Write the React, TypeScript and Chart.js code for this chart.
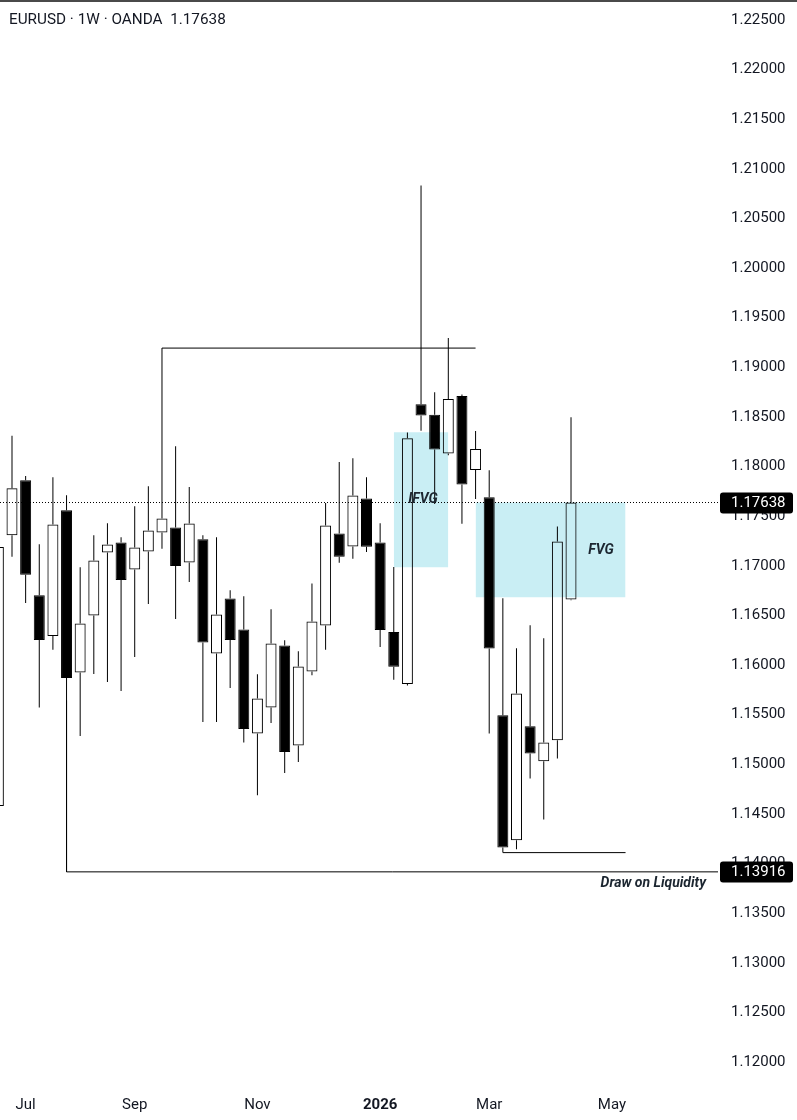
import React, { useEffect, useRef } from 'react';
import { Chart, registerables } from 'chart.js';

Chart.register(...registerables);

// Weekly EURUSD candles (index 0 = partially visible week before Jul)
const opens = [
  1.14579, 1.17307, 1.17863, 1.16704, 1.16294, 1.17561, 1.15925, 1.16499, 1.17134, 1.17235,
  1.16963, 1.17144, 1.17336, 1.17386, 1.17034, 1.17268, 1.16116, 1.16671, 1.16358, 1.1531,
  1.15572, 1.16197, 1.15189, 1.15935, 1.16399, 1.17326, 1.17195, 1.17679, 1.17235, 1.16332,
  1.15808, 1.18628, 1.18522, 1.18133, 1.18712, 1.17966, 1.17692, 1.15494, 1.14234, 1.15384,
  1.15031, 1.15242, 1.16661,
];
const highs = [
  1.1735, 1.18311, 1.17904, 1.17218, 1.17893, 1.17712, 1.16986, 1.17309, 1.1743, 1.17289,
  1.17601, 1.17803, 1.19194, 1.18206, 1.17793, 1.17309, 1.17289, 1.16754, 1.16694, 1.15908,
  1.16563, 1.1625, 1.1614, 1.16822, 1.17634, 1.18045, 1.18085, 1.17893, 1.1743, 1.16988,
  1.18344, 1.20832, 1.1875, 1.19296, 1.18726, 1.18358, 1.17964, 1.16674, 1.1617, 1.16402,
  1.1627, 1.17396, 1.18498,
];
const lows = [
  1.144, 1.17092, 1.16626, 1.15572, 1.16153, 1.15646, 1.15286, 1.15911, 1.1583, 1.15739,
  1.16082, 1.16616, 1.17171, 1.16465, 1.16838, 1.15427, 1.15427, 1.1577, 1.15219, 1.14688,
  1.15417, 1.14913, 1.15024, 1.15898, 1.16153, 1.1703, 1.1707, 1.1714, 1.16183, 1.15853,
  1.15794, 1.18361, 1.17623, 1.18115, 1.17424, 1.17674, 1.1531, 1.1411, 1.14144, 1.14856,
  1.14443, 1.15058, 1.16654,
];
const closes = [
  1.17189, 1.17781, 1.16909, 1.16253, 1.17417, 1.1587, 1.16419, 1.17054, 1.17215, 1.16858,
  1.17185, 1.17356, 1.17477, 1.16999, 1.17427, 1.16227, 1.16509, 1.16253, 1.15356, 1.15663,
  1.16217, 1.15124, 1.15985, 1.16439, 1.17407, 1.17092, 1.17709, 1.17191, 1.16354, 1.15984,
  1.18285, 1.18515, 1.18171, 1.18681, 1.1782, 1.18178, 1.16167, 1.14161, 1.15713, 1.15108,
  1.15219, 1.17245, 1.17638,
];

const monthTickIdx = [2, 10, 19, 28, 36, 45];
const monthLabels = ['Jul', 'Sep', 'Nov', '2026', 'Mar', 'May'];
const priceTicks = [
  1.12, 1.125, 1.13, 1.135, 1.14, 1.145, 1.15, 1.155, 1.16, 1.165, 1.17, 1.175,
  1.18, 1.185, 1.19, 1.195, 1.2, 1.205, 1.21, 1.215, 1.22, 1.225,
];

const lastPrice = 1.17638;
const liquidityPrice = 1.13916;
const prevHighPrice = 1.19194;
const recentLowPrice = 1.1411;
const ifvgTop = 1.18347;
const ifvgBottom = 1.16986;
const fvgTop = 1.17638;
const fvgBottom = 1.16684;

const X_MIN = 0.12;
const X_MAX = 52.78;
const Y_MIN = 1.117684;
const Y_MAX = 1.227015;

const TEXT = '#131722';
const BOX = 'rgb(201,238,244)';

const overlay = {
  id: 'overlay',
  afterDatasetsDraw(chart: any) {
    const { ctx } = chart;
    const xs = chart.scales.x;
    const ys = chart.scales.y;
    ctx.save();
    ctx.fillStyle = '#1c2630';
    ctx.textBaseline = 'middle';
    ctx.font = 'italic bold 14px Roboto';
    ctx.textAlign = 'center';
    ctx.fillText('IFVG', xs.getPixelForValue(31.14), ys.getPixelForValue(1.17672));
    ctx.fillText('FVG', xs.getPixelForValue(44.2), ys.getPixelForValue(1.17158));
    ctx.textAlign = 'right';
    ctx.fillText('Draw on Liquidity', xs.getPixelForValue(51.9), ys.getPixelForValue(1.13801));
    ctx.restore();
  },
  afterDraw(chart: any) {
    const { ctx, chartArea } = chart;
    const ys = chart.scales.y;
    ctx.save();
    // top border
    ctx.fillStyle = '#4a4a4a';
    ctx.fillRect(0, 0, chart.width, 2);
    // header
    ctx.fillStyle = TEXT;
    ctx.font = '15.3px Roboto';
    ctx.textAlign = 'left';
    ctx.textBaseline = 'middle';
    ctx.fillText('EURUSD · 1W · OANDA  ' + lastPrice.toFixed(5), 9, 20);
    // price labels
    [lastPrice, liquidityPrice].forEach((p) => {
      const y = ys.getPixelForValue(p);
      ctx.fillStyle = '#000';
      ctx.beginPath();
      (ctx as any).roundRect(chartArea.right + 2, Math.round(y) - 10.5, 73, 21, 3);
      ctx.fill();
      ctx.fillStyle = '#fff';
      ctx.font = '15px Roboto';
      ctx.fillText(p.toFixed(5), chartArea.right + 13, Math.round(y) + 0.5);
    });
    ctx.restore();
  },
};

export default function App() {
  const ref = useRef<HTMLCanvasElement>(null);

  useEffect(() => {
    if (!ref.current) return;
    const idx = opens.map((_, i) => i);
    const bodies = idx.map((i) => ({ x: i, y: [opens[i], closes[i]] }));
    const upperWicks = idx.map((i) => ({ x: i, y: [Math.max(opens[i], closes[i]), highs[i]] }));
    const lowerWicks = idx.map((i) => ({ x: i, y: [lows[i], Math.min(opens[i], closes[i])] }));
    const bodyFill = idx.map((i) => (closes[i] >= opens[i] ? 'rgba(0,0,0,0)' : '#000'));

    const lineBase = {
      type: 'line' as const,
      borderColor: '#000',
      borderWidth: 1,
      pointRadius: 0,
      fill: false,
      tension: 0,
    };

    const chart = new Chart(ref.current, {
      type: 'bar',
      data: {
        datasets: [
          {
            type: 'bar',
            data: bodies as any,
            backgroundColor: bodyFill,
            borderColor: '#000',
            borderWidth: 1,
            borderSkipped: false,
            barThickness: 11,
            grouped: false,
            inflateAmount: 0,
            order: 1,
          } as any,
          {
            type: 'bar',
            data: upperWicks as any,
            backgroundColor: '#000',
            borderWidth: 0,
            barThickness: 1,
            grouped: false,
            inflateAmount: 0,
            order: 2,
          } as any,
          {
            type: 'bar',
            data: lowerWicks as any,
            backgroundColor: '#000',
            borderWidth: 0,
            barThickness: 1,
            grouped: false,
            inflateAmount: 0,
            order: 2,
          } as any,
          {
            ...lineBase,
            data: [{ x: 12, y: prevHighPrice }, { x: 35, y: prevHighPrice }],
            order: 5,
          } as any,
          {
            ...lineBase,
            data: [
              { x: 5, y: lows[5] },
              { x: 5, y: liquidityPrice },
              { x: X_MAX, y: liquidityPrice },
            ],
            order: 5,
          } as any,
          {
            ...lineBase,
            data: [{ x: 37, y: recentLowPrice }, { x: 46, y: recentLowPrice }],
            order: 5,
          } as any,
          {
            ...lineBase,
            data: [{ x: X_MIN, y: lastPrice }, { x: X_MAX, y: lastPrice }],
            borderDash: [1, 2],
            order: 6,
          } as any,
          {
            ...lineBase,
            data: [{ x: 29, y: ifvgTop }, { x: 33, y: ifvgTop }],
            borderWidth: 0,
            backgroundColor: BOX,
            fill: { value: ifvgBottom },
            order: 10,
          } as any,
          {
            ...lineBase,
            data: [{ x: 35, y: fvgTop }, { x: 46, y: fvgTop }],
            borderWidth: 0,
            backgroundColor: BOX,
            fill: { value: fvgBottom },
            order: 10,
          } as any,
        ],
      },
      options: {
        responsive: false,
        animation: false,
        devicePixelRatio: 1,
        events: [],
        layout: { padding: 0 },
        plugins: {
          legend: { display: false },
          tooltip: { enabled: false },
        },
        scales: {
          x: {
            type: 'linear',
            min: X_MIN,
            max: X_MAX,
            offset: false,
            bounds: 'data',
            grid: { display: false, drawTicks: false },
            border: { display: false },
            afterBuildTicks: (s: any) => {
              s.ticks = monthTickIdx.map((v) => ({ value: v }));
            },
            afterFit: (s: any) => {
              s.height = 35;
              s.paddingLeft = 0;
              s.paddingRight = 0;
            },
            ticks: {
              autoSkip: false,
              maxRotation: 0,
              minRotation: 0,
              padding: 11,
              color: TEXT,
              font: (c: any) => ({
                family: 'Roboto',
                size: 15,
                weight: c.tick && c.tick.label === '2026' ? 'bold' : 'normal',
              }),
              callback: (v: any) => {
                const k = monthTickIdx.indexOf(Number(v));
                return k >= 0 ? monthLabels[k] : '';
              },
            },
          } as any,
          y: {
            type: 'linear',
            position: 'right',
            min: Y_MIN,
            max: Y_MAX,
            bounds: 'data',
            grid: { display: false, drawTicks: false },
            border: { display: false },
            afterBuildTicks: (s: any) => {
              s.ticks = priceTicks.map((v) => ({ value: v }));
            },
            afterFit: (s: any) => {
              s.width = 79;
              s.paddingTop = 0;
              s.paddingBottom = 0;
            },
            ticks: {
              padding: 13,
              color: TEXT,
              font: { family: 'Roboto', size: 15 },
              callback: (v: any) => Number(v).toFixed(5),
            },
          } as any,
        },
      },
      plugins: [overlay],
    } as any);

    return () => chart.destroy();
  }, []);

  return (
    <div style={{ position: 'absolute', left: 0, top: 0, width: 797, height: 1120, background: '#fff' }}>
      <canvas ref={ref} width={797} height={1120} style={{ display: 'block' }} />
    </div>
  );
}
